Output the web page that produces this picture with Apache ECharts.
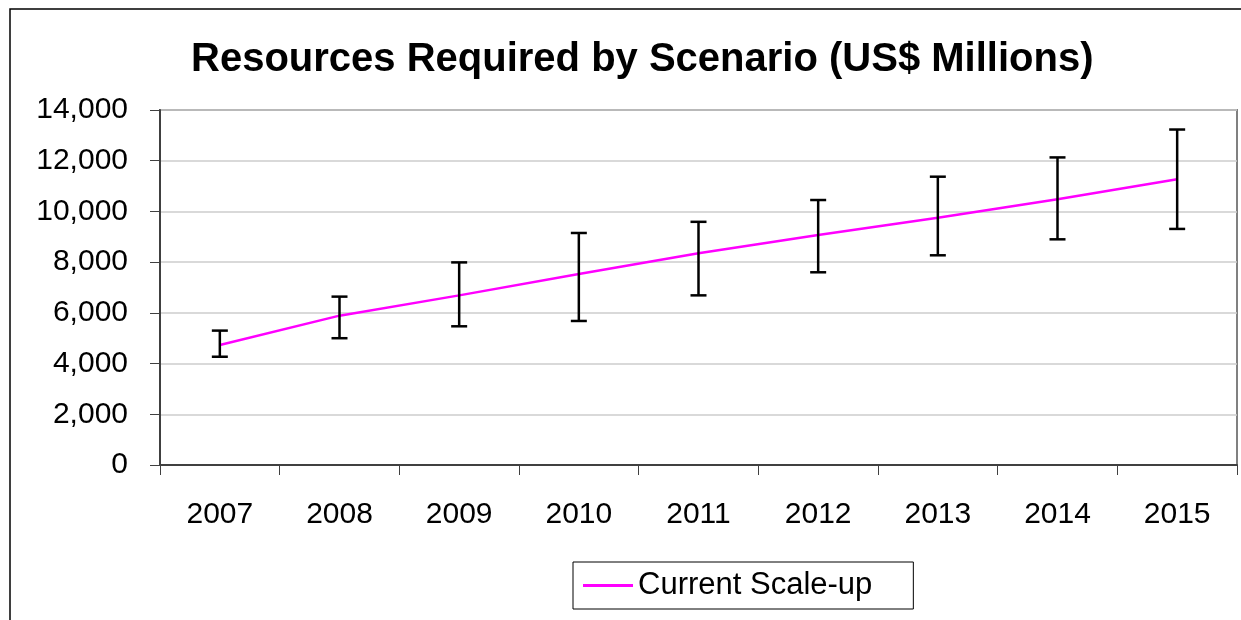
<!DOCTYPE html>
<html>
<head>
<meta charset="utf-8">
<style>
  html, body { margin: 0; padding: 0; background: #fff; }
  #main { width: 1241px; height: 620px; }
</style>
<script src="https://cdn.jsdelivr.net/npm/echarts@6/dist/echarts.min.js"></script>
</head>
<body>
<div id="main"></div>
<script>
// data
const years = ["2007", "2008", "2009", "2010", "2011", "2012", "2013", "2014", "2015"]
const scaleUp = [4730, 5890, 6690, 7530, 8350, 9070, 9750, 10480, 11270]
const lowBound = [4270, 5000, 5470, 5680, 6690, 7600, 8270, 8900, 9310]
const highBound = [5300, 6640, 7990, 9150, 9590, 10450, 11370, 12130, 13230]

const font = "'Liberation Sans', Arial, sans-serif"

const myChart = echarts.init(document.getElementById("main"))

const errorData = years.map((y, i) => [i, lowBound[i], highBound[i]])

myChart.setOption({
  animation: false,
  backgroundColor: "#fff",
  graphic: [
    {
      type: "rect",
      shape: { x: 10, y: 9, width: 1300, height: 700 },
      style: { fill: "none", stroke: "#000", lineWidth: 1.5 },
      z: 0,
    },
  ],
  title: {
    text: "Resources Required by Scenario (US$ Millions)",
    left: 191,
    top: 40,
    padding: 0,
    textStyle: { fontFamily: font, fontSize: 40, fontWeight: "bold", color: "#000" },
  },
  legend: {
    left: 573,
    top: 562,
    padding: [8, 41, 8, 10],
    borderColor: "#000",
    borderWidth: 1,
    itemWidth: 50,
    itemHeight: 3,
    icon: "rect",
    data: ["Current Scale-up"],
    textStyle: { fontFamily: font, fontSize: 31, color: "#000", lineHeight: 30 },
  },
  grid: {
    left: 160,
    right: 4,
    top: 110,
    bottom: 155,
    show: true,
    borderColor: "#808080",
    borderWidth: 2,
    backgroundColor: "#fff",
  },
  xAxis: {
    type: "category",
    data: years,
    boundaryGap: true,
    axisLine: { lineStyle: { color: "#404040", width: 2 } },
    axisTick: { show: true, length: 10, lineStyle: { color: "#404040", width: 1 } },
    axisLabel: { fontFamily: font, fontSize: 30, color: "#000", margin: 35 },
  },
  yAxis: {
    type: "value",
    min: 0,
    max: 14000,
    interval: 2000,
    axisLine: { show: true, lineStyle: { color: "#404040", width: 2 } },
    axisTick: { show: true, length: 10, lineStyle: { color: "#404040", width: 1 } },
    splitLine: { lineStyle: { color: "#cccccc", width: 1.5 } },
    axisLabel: {
      fontFamily: font,
      fontSize: 30,
      color: "#000",
      margin: 32,
      formatter: (v) => v.toLocaleString("en-US"),
    },
  },
  series: [
    {
      name: "Current Scale-up",
      type: "line",
      data: scaleUp,
      showSymbol: false,
      symbol: "none",
      itemStyle: { color: "#ff00ff" },
      lineStyle: { color: "#ff00ff", width: 2.5 },
      z: 3,
    },
    {
      name: "range",
      type: "custom",
      data: errorData,
      z: 4,
      renderItem: (params, api) => {
        const lo = api.coord([api.value(0), api.value(1)])
        const hi = api.coord([api.value(0), api.value(2)])
        const x = lo[0]
        const cap = 8
        const style = { stroke: "#000", lineWidth: 2.5 }
        return {
          type: "group",
          children: [
            { type: "line", shape: { x1: x, y1: lo[1], x2: x, y2: hi[1] }, style },
            { type: "line", shape: { x1: x - cap, y1: lo[1], x2: x + cap, y2: lo[1] }, style },
            { type: "line", shape: { x1: x - cap, y1: hi[1], x2: x + cap, y2: hi[1] }, style },
          ],
        }
      },
    },
  ],
})
</script>
</body>
</html>
